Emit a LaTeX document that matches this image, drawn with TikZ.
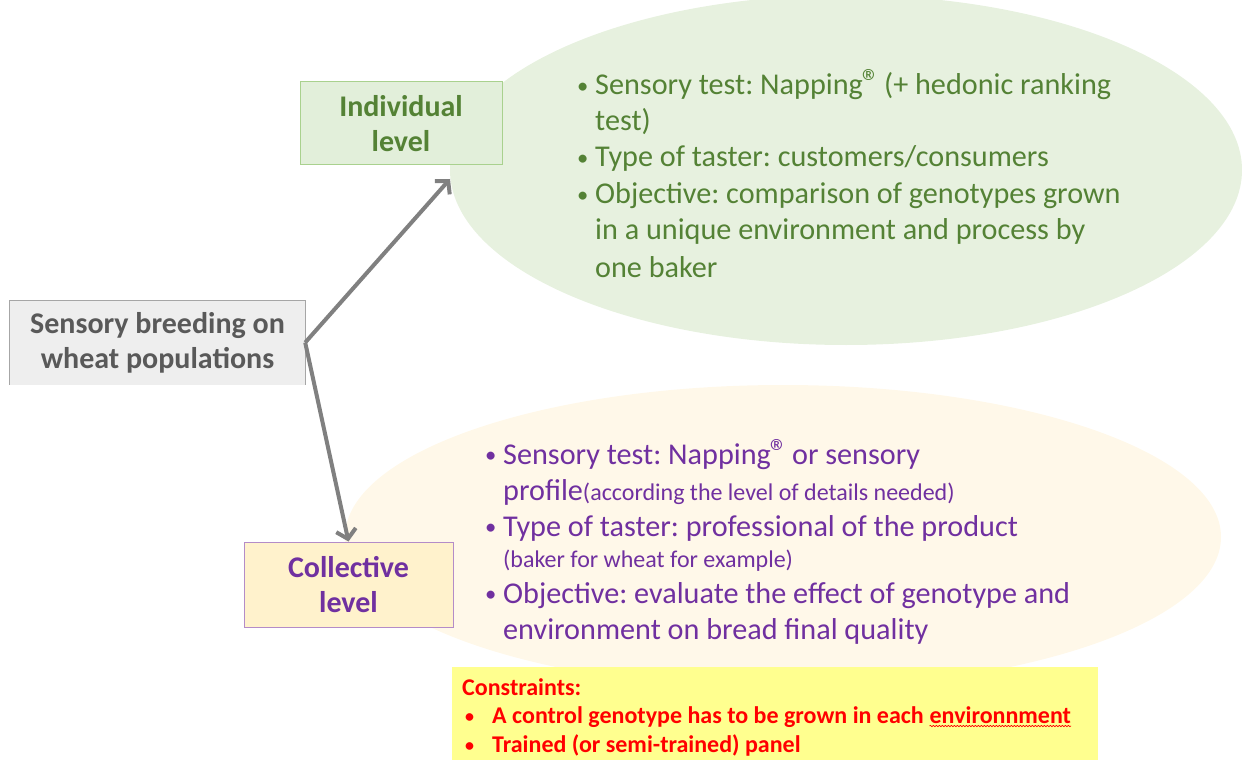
\documentclass[tikz,border=0pt]{standalone}
\usepackage{fontspec}
\setmainfont{Carlito}
\usetikzlibrary{arrows.meta,decorations.pathmorphing}
\frenchspacing

\definecolor{leafgreen}{HTML}{548235}
\definecolor{palegreen}{HTML}{E7F1DF}
\definecolor{boxgreen}{HTML}{E2EFDA}
\definecolor{rimgreen}{HTML}{A9D18E}
\definecolor{palecream}{HTML}{FFF8E9}
\definecolor{boxcream}{HTML}{FFF2CC}
\definecolor{rimpurple}{HTML}{B48CC8}
\definecolor{plum}{HTML}{7030A0}
\definecolor{slate}{HTML}{595959}
\definecolor{boxgray}{HTML}{EEEEEE}
\definecolor{rimgray}{HTML}{A6A6A6}
\definecolor{notepad}{HTML}{FFFF8F}

\newcommand{\blt}{\llap{\makebox[18pt][l]{\raisebox{1.5pt}{\scalebox{0.75}{\textbullet}}}}}
\newcommand{\regmark}{\kern-1pt\scalebox{1.2}{®}\kern-3pt}

\tikzset{
  levelbox/.style={minimum width=#1, minimum height=84pt, inner sep=0pt,
    align=center, font=\fontsize{30}{35}\selectfont\bfseries},
  textline/.style={anchor=base west, inner sep=0pt},
  bigtext/.style={font=\fontsize{30.2}{34}\selectfont},
  smalltext/.style={font=\fontsize{24}{28}\selectfont},
  redline/.style={anchor=base west, inner sep=0pt, text=red,
    font=\fontsize{24}{28}\selectfont\bfseries},
  link/.style={draw=gray, line width=4pt, -{Straight Barb[length=9pt,width=20pt,line width=4pt]}}
}

\begin{document}
\begin{tikzpicture}[x=1pt,y=-1pt]
\useasboundingbox (0,0) rectangle (1242,762);
\begin{scope}
\clip (0,0) rectangle (1242,762);
% the two clouds
\fill[palegreen] (846,170) ellipse [x radius=396, y radius=175];
\fill[palecream] (783,537) ellipse [x radius=438, y radius=152];
\end{scope}

% source box
\node[levelbox=295pt, fill=boxgray, text=slate] (src) at (157.5,342.5)
  {Sensory breeding on\\wheat populations};
\draw[rimgray, line width=1pt] (src.south west) -- (src.north west) -- (src.north east) -- (src.south east);

% level boxes
\node[levelbox=202pt, minimum height=83pt, fill=boxgreen, draw=rimgreen, line width=1pt, text=leafgreen]
  (ind) at (401,123.5) {Individual\\level};
\node[levelbox=209pt, minimum height=85pt, fill=boxcream, draw=rimpurple, line width=1pt, text=plum]
  (coll) at (348.5,584.5) {Collective\\level};

% arrows
\coordinate (indtip) at (450,179);
\draw[link] (src.east) -- (indtip);
\draw[link] (src.east) -- (coll.north);

% individual level text
\foreach \y/\t/\n in {95/{\blt Sensory test: Napping\regmark{} (+ hedonic ranking}/g1,
                      131/{test)}/g2,
                      167/{\blt Type of taster: customers/consumers}/g3,
                      204/{\blt Objective: comparison of genotypes grown}/g4,
                      240/{in a unique environment and process by}/g5,
                      277/{one baker}/g6}
  \node[textline, bigtext, text=leafgreen] (\n) at (595,\y) {\t};

% collective level text
\node[textline, bigtext, text=plum] (p1) at (503,464) {\blt Sensory test: Napping\regmark{} or sensory};
\node[textline, bigtext, text=plum] (p2) at (503,500) {profile{\fontsize{24}{28}\selectfont(according the level of details needed)}};
\node[textline, bigtext, text=plum] (p3) at (503,536) {\blt Type of taster: professional of the product};
\node[textline, smalltext, text=plum] (p4) at (503,567) {(baker for wheat for example)};
\node[textline, bigtext, text=plum] (p5) at (503,603) {\blt Objective: evaluate the effect of genotype and};
\node[textline, bigtext, text=plum] (p6) at (503,639) {environment on bread final quality};

% constraints
\fill[notepad] (452,667) rectangle (1098,760);
\node[redline] (c0) at (462,695) {Constraints:};
\node[redline] (c1) at (462,723) {\makebox[30pt][l]{\hspace{3pt}\raisebox{1pt}{\scalebox{0.75}{\textbullet}}}A control genotype has to be grown in each};
\node[redline] (c1w) at ([xshift=5.5pt]c1.base east) {environnment};
\node[redline] (c2) at (462,752) {\makebox[30pt][l]{\hspace{3pt}\raisebox{1pt}{\scalebox{0.75}{\textbullet}}}Trained (or semi-trained) panel};
\draw[red, line width=0.6pt, decorate, decoration={snake, amplitude=0.7pt, segment length=3pt}]
  ([yshift=-3pt]c1w.base west) -- ([yshift=-3pt]c1w.base east);
\end{tikzpicture}
\end{document}
